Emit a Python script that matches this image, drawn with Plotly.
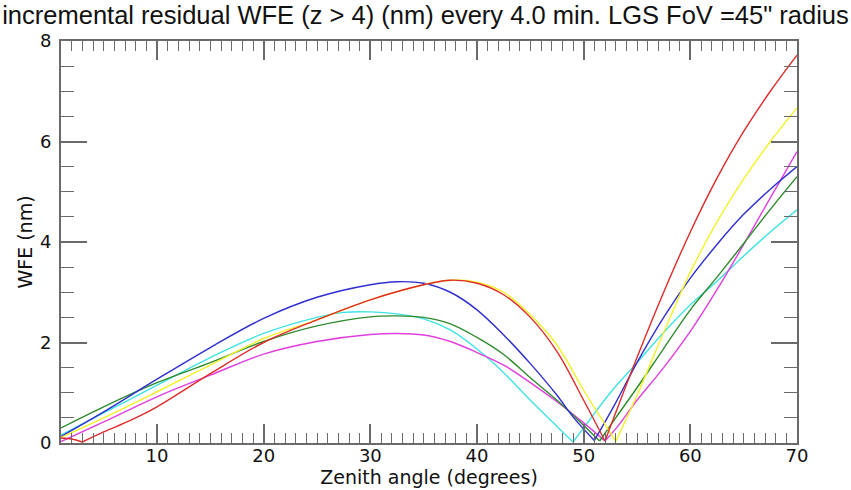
import plotly.graph_objects as go

# Zenith angle samples (degrees) and WFE (nm) for each curve
red_x = [1, 2, 3, 5, 7.5, 10, 15, 20, 25, 30, 35, 37.5, 40, 42.5, 45, 47.5, 50, 52, 55, 57.5, 60, 62.5, 65, 67.5, 70]
red_y = [0.10, 0.08, 0.02, 0.22, 0.45, 0.72, 1.38, 2.00, 2.45, 2.85, 3.15, 3.24, 3.18, 2.95, 2.50, 1.82, 0.85, 0.04, 1.70, 3.00, 4.20, 5.27, 6.20, 7.00, 7.72]

yellow_x = [1, 5, 10, 15, 20, 25, 30, 35, 37.5, 40, 42.5, 45, 47.5, 50, 52, 53, 55, 57.5, 60, 62.5, 65, 67.5, 70]
yellow_y = [0.11, 0.50, 1.02, 1.55, 2.08, 2.45, 2.85, 3.15, 3.24, 3.20, 3.00, 2.55, 1.95, 1.05, 0.37, 0.03, 0.95, 2.20, 3.40, 4.40, 5.25, 6.00, 6.67]

blue_x = [1, 5, 10, 15, 20, 25, 30, 32.5, 35, 37.5, 40, 42.5, 45, 47.5, 49, 51, 53, 55, 57.5, 60, 62.5, 65, 67.5, 70]
blue_y = [0.13, 0.62, 1.27, 1.90, 2.48, 2.90, 3.15, 3.21, 3.18, 3.00, 2.65, 2.15, 1.58, 0.95, 0.52, 0.05, 0.80, 1.60, 2.50, 3.28, 3.95, 4.55, 5.05, 5.50]

green_x = [1, 5, 10, 15, 20, 25, 30, 32.5, 35, 37.5, 40, 42.5, 45, 47.5, 50, 51.5, 53, 55, 57.5, 60, 62.5, 65, 67.5, 70]
green_y = [0.30, 0.72, 1.20, 1.60, 2.02, 2.33, 2.51, 2.53, 2.50, 2.37, 2.10, 1.76, 1.30, 0.85, 0.35, 0.04, 0.50, 1.10, 1.88, 2.65, 3.30, 3.97, 4.65, 5.30]

cyan_x = [1, 5, 10, 15, 20, 25, 27.5, 30, 32.5, 35, 37.5, 40, 42.5, 45, 47.5, 49, 50, 52.5, 55, 57.5, 60, 62.5, 65, 67.5, 70]
cyan_y = [0.16, 0.60, 1.15, 1.70, 2.18, 2.50, 2.60, 2.61, 2.57, 2.47, 2.25, 1.87, 1.40, 0.85, 0.33, 0.02, 0.30, 1.00, 1.60, 2.20, 2.75, 3.22, 3.72, 4.20, 4.64]

magenta_x = [1, 5, 10, 15, 20, 25, 30, 32.5, 35, 37.5, 40, 42.5, 45, 47.5, 50, 52, 53, 55, 57.5, 60, 62.5, 65, 67.5, 70]
magenta_y = [0.03, 0.42, 0.92, 1.35, 1.77, 2.02, 2.16, 2.18, 2.15, 2.02, 1.80, 1.55, 1.20, 0.82, 0.40, 0.04, 0.28, 0.85, 1.50, 2.22, 3.05, 3.95, 4.88, 5.80]

x_ticks = [10, 20, 30, 40, 50, 60, 70]
y_ticks = [0, 2, 4, 6, 8]

curves = [
    (cyan_x, cyan_y, "#3fe3e3"),
    (magenta_x, magenta_y, "#e03ee0"),
    (green_x, green_y, "#2e8b2e"),
    (blue_x, blue_y, "#2f2fd0"),
    (yellow_x, yellow_y, "#f2f22a"),
    (red_x, red_y, "#e02a2a"),
]

fig = go.Figure()


def segments(xs, ys):
    # split at local minima (the |.| cusps) so each arc is smoothed separately
    cuts = [0]
    for i in range(1, len(ys) - 1):
        if ys[i] < ys[i - 1] and ys[i] < ys[i + 1]:
            cuts.append(i)
    cuts.append(len(ys) - 1)
    for a, b in zip(cuts[:-1], cuts[1:]):
        yield xs[a:b + 1], ys[a:b + 1]


for xs, ys, col in curves:
    for sx, sy in segments(xs, ys):
        fig.add_trace(go.Scatter(
            x=sx, y=sy, mode="lines",
            line=dict(color=col, width=1.4, shape="spline", smoothing=1.0),
            showlegend=False, hoverinfo="skip",
        ))

axis_col = "#6a6a6a"
tick_font = dict(family="DejaVu Sans", size=18, color="#111")

fig.update_layout(
    width=851, height=490,
    margin=dict(l=61, r=54, t=41, b=47),
    paper_bgcolor="white", plot_bgcolor="white",
    title=dict(
        text="incremental residual WFE (z > 4) (nm) every 4.0 min. LGS FoV =45\" radius",
        font=dict(family="Liberation Sans", size=25.5, color="#111"),
        x=0.5, xanchor="center", y=0.97, yanchor="middle",
    ),
    xaxis=dict(
        range=[1, 70], tickvals=x_ticks, ticks="inside", ticklen=19, tickwidth=1.6,
        tickcolor=axis_col, showline=True, linecolor=axis_col, linewidth=2,
        mirror="ticks", showgrid=False, zeroline=False, tickfont=tick_font,
        ticklabelstandoff=-5,
        minor=dict(dtick=1, tick0=0, ticks="inside", ticklen=10, tickwidth=1.4,
                   tickcolor=axis_col, showgrid=False),
        title=dict(text="Zenith angle (degrees)", font=dict(family="DejaVu Sans", size=19, color="#111"),
                   standoff=0),
    ),
    yaxis=dict(
        range=[0, 8], tickvals=y_ticks, ticks="inside", ticklen=26, tickwidth=1.6,
        tickcolor=axis_col, showline=True, linecolor=axis_col, linewidth=2,
        mirror="ticks", showgrid=False, zeroline=False, tickfont=tick_font,
        ticklabelstandoff=4,
        minor=dict(dtick=0.5, tick0=0, ticks="inside", ticklen=13, tickwidth=1.4,
                   tickcolor=axis_col, showgrid=False),
        title=dict(text="WFE (nm)", font=dict(family="DejaVu Sans", size=19, color="#111"),
                   standoff=2),
    ),
)

fig.write_html("out.html", config={"displayModeBar": False},
               post_script="document.body.style.margin='0';")
